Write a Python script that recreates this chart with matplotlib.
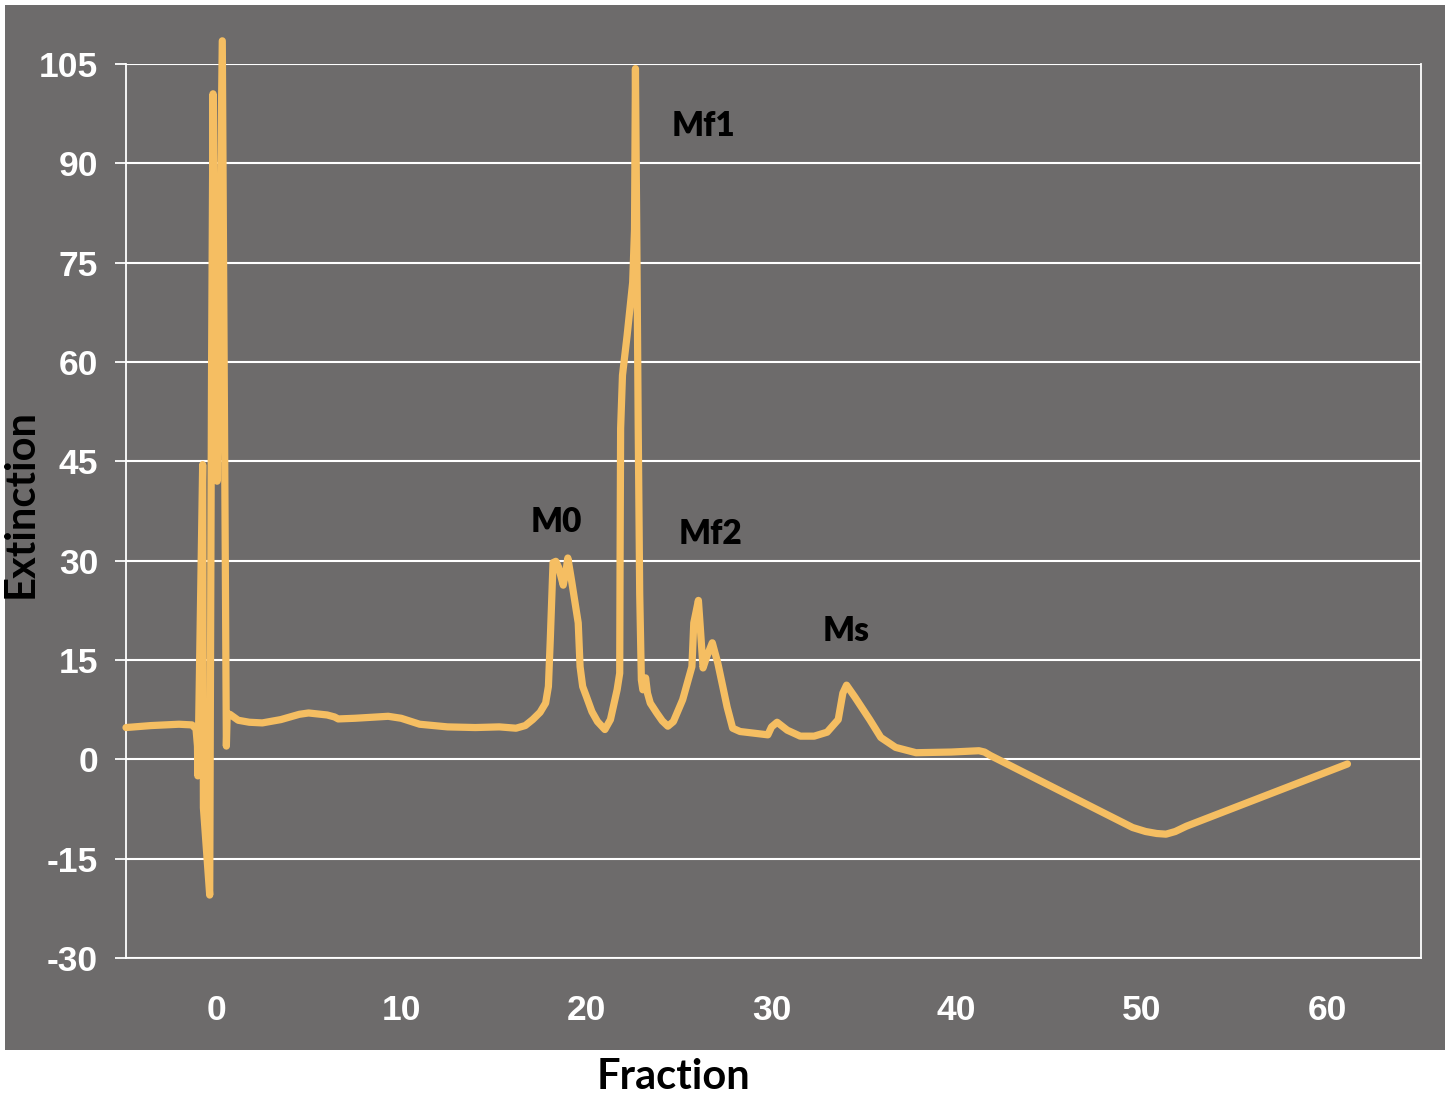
import matplotlib
matplotlib.use("Agg")
import matplotlib.pyplot as plt
from matplotlib.patches import Rectangle

# Elution profile: fraction number vs. extinction
fraction = [
    -4.86, -3.5, -2.0, -1.3, -1.08, -1.0, -0.98, -0.72, -0.68, -0.34,
    -0.24, -0.16, -0.12, 0.06, 0.34, 0.56, 0.60, 0.75, 1.2, 1.8,
    2.5, 3.5, 4.5, 5.0, 6.0, 6.4, 6.6, 7.5, 9.3, 10.0,
    11.0, 12.5, 14.0, 15.3, 16.2, 16.7, 17.1, 17.5, 17.8, 17.95,
    18.05, 18.2, 18.35, 18.5, 18.75, 18.9, 19.0, 19.2, 19.56, 19.66,
    19.8, 20.0, 20.3, 20.6, 21.0, 21.3, 21.66, 21.8, 21.82, 21.85,
    21.95, 22.2, 22.5, 22.6, 22.65, 22.72, 22.8, 22.88, 22.97, 23.05,
    23.2, 23.3, 23.45, 23.8, 24.1, 24.4, 24.7, 25.2, 25.7, 25.8,
    26.05, 26.15, 26.3, 26.5, 26.8, 27.1, 27.6, 27.9, 28.3, 29.8,
    30.0, 30.3, 30.85, 31.55, 32.3, 33.0, 33.6, 33.85, 34.05, 34.5,
    35.3, 35.9, 36.7, 37.8, 39.7, 41.2, 41.5, 41.8, 47.8, 49.5,
    50.2, 50.8, 51.3, 51.8, 52.4, 61.1,
]
extinction = [
    4.8, 5.1, 5.3, 5.2, 4.6, 2.0, -2.5, 44.5, -7.3, -20.5,
    59.0, 100.5, 82.0, 42.0, 108.5, 2.0, 6.5, 6.8, 5.9, 5.6,
    5.5, 6.0, 6.8, 7.0, 6.7, 6.4, 6.1, 6.2, 6.5, 6.2,
    5.3, 4.9, 4.8, 4.9, 4.7, 5.1, 6.0, 7.1, 8.5, 11.0,
    18.0, 29.7, 29.9, 29.0, 26.3, 28.5, 30.4, 27.0, 20.6, 14.0,
    11.0, 9.5, 7.2, 5.7, 4.5, 6.0, 10.5, 13.0, 30.0, 50.0,
    58.0, 64.0, 72.0, 80.0, 104.3, 80.0, 50.0, 25.0, 12.0, 10.5,
    12.3, 10.0, 8.5, 7.0, 5.8, 5.0, 5.7, 9.0, 14.0, 20.6,
    24.0, 20.0, 13.8, 15.5, 17.6, 14.5, 7.9, 4.7, 4.2, 3.7,
    4.9, 5.6, 4.4, 3.5, 3.5, 4.1, 6.0, 10.0, 11.2, 9.4,
    6.0, 3.3, 1.8, 1.0, 1.1, 1.3, 1.1, 0.6, -7.9, -10.3,
    -10.9, -11.2, -11.3, -10.9, -10.1, -0.7,
]

# Peak names and where they are written
peak_names = ["M0", "Mf1", "Mf2", "Ms"]
peak_label_x = [18.37, 26.31, 26.69, 34.03]
peak_label_y = [35.9, 95.7, 34.1, 19.4]

x_ticks = [0, 10, 20, 30, 40, 50, 60]
y_ticks = [-30, -15, 0, 15, 30, 45, 60, 75, 90, 105]

BG = "#6d6b6b"
LINE = "#f5be62"
TICK_FONT = "Liberation Sans"
LABEL_FONT = "Lato"

fig = plt.figure(figsize=(14.49, 11.05), dpi=100, facecolor="white")
fig.patches.append(Rectangle((5 / 1449, 1 - 1050 / 1105), 1440 / 1449, 1045 / 1105,
                             transform=fig.transFigure, facecolor=BG,
                             edgecolor="none", zorder=-10))

ax = fig.add_axes([126 / 1449, 1 - 958 / 1105, 1295 / 1449, 894 / 1105])
ax.set_facecolor(BG)
ax.set_xlim(-4.86, 65.07)
ax.set_ylim(-30, 105)

ax.set_yticks(y_ticks)
ax.set_xticks(x_ticks)
ax.set_yticklabels([str(v) for v in y_ticks])
ax.set_xticklabels([str(v) for v in x_ticks])
ax.yaxis.grid(True, color="white", linewidth=1.5)
ax.set_axisbelow(True)

for side in ("left", "right", "bottom"):
    ax.spines[side].set_color("white")
    ax.spines[side].set_linewidth(1.3)
ax.spines["top"].set_visible(False)

ax.tick_params(axis="y", colors="white", length=8, width=1.3, pad=12)
ax.tick_params(axis="x", colors="white", length=0, pad=26)
for lab in ax.get_xticklabels() + ax.get_yticklabels():
    lab.set_fontfamily(TICK_FONT)
    lab.set_fontweight("bold")
    lab.set_fontsize(25.5)
    lab.set_color("white")

ax.plot(fraction, extinction, color=LINE, linewidth=5.2,
        solid_joinstyle="round", solid_capstyle="round", clip_on=False, zorder=3)

for name, lx, ly in zip(peak_names, peak_label_x, peak_label_y):
    ax.text(lx, ly, name, ha="center", va="center", fontsize=24,
            fontweight="heavy", family=LABEL_FONT, color="black")

fig.text(673 / 1449, 1 - 1077 / 1105, "Fraction", ha="center", va="center",
         fontsize=30, fontweight="bold", family=LABEL_FONT, color="black")
fig.text(21 / 1449, 1 - 504 / 1105, "Extinction", ha="center", va="center",
         rotation=90, fontsize=30, fontweight="bold", family=LABEL_FONT, color="black")

fig.savefig("out.png", dpi=100, facecolor="white")
